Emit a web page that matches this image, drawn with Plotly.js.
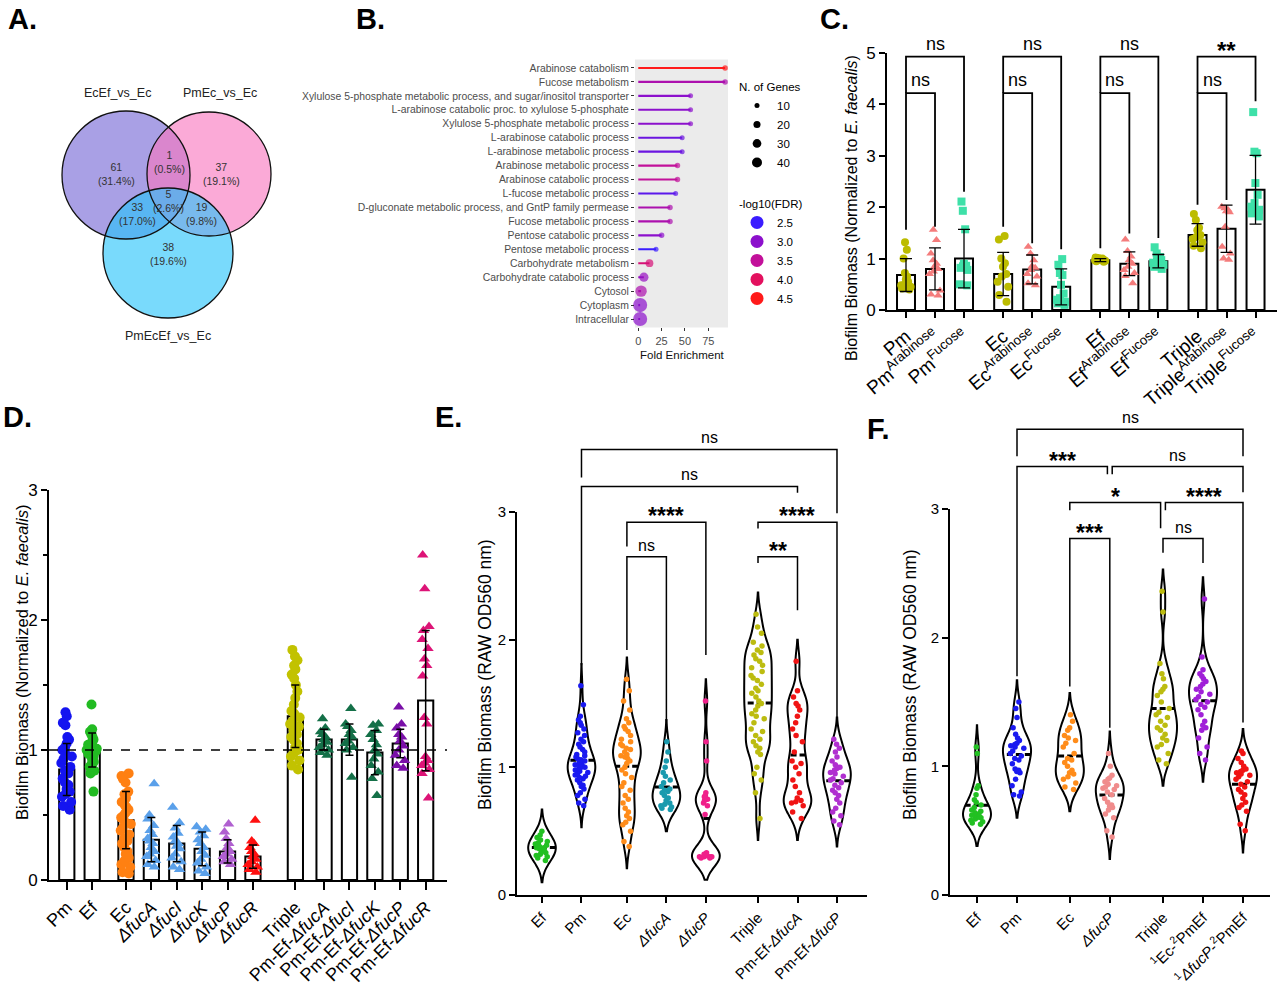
<!DOCTYPE html>
<html><head><meta charset="utf-8">
<script src="https://cdn.plot.ly/plotly-3.0.1.min.js"></script>
<style>html,body{margin:0;padding:0;background:#fff;}#chart{width:1280px;height:989px;}</style>
</head><body><div id="chart"></div>
<script>
const FONT = 'Liberation Sans, Arial, Helvetica, sans-serif';
const W = 1280, H = 989;

// ================= DATA =================
// ---- Panel A (Venn)
const vennSets = ['EcEf_vs_Ec', 'PmEc_vs_Ec', 'PmEcEf_vs_Ec'];
// regions: EcEf only, PmEc only, PmEcEf only, EcEf&PmEc, EcEf&PmEcEf, PmEc&PmEcEf, all three
const vennCounts = [61, 37, 38, 1, 33, 19, 5];
const vennPct = ['31.4%', '19.1%', '19.6%', '0.5%', '17.0%', '9.8%', '2.6%'];

// ---- Panel B (GO enrichment lollipop)
const goTerms = ['Arabinose catabolism', 'Fucose metabolism',
  'Xylulose 5-phosphate metabolic process, and sugar/inositol transporter',
  'L-arabinose catabolic proc. to xylulose 5-phosphate', 'Xylulose 5-phosphate metabolic process',
  'L-arabinose catabolic process', 'L-arabinose metabolic process', 'Arabinose metabolic process',
  'Arabinose catabolic process', 'L-fucose metabolic process',
  'D-gluconate metabolic process, and GntP family permease', 'Fucose metabolic process',
  'Pentose catabolic process', 'Pentose metabolic process', 'Carbohydrate metabolism',
  'Carbohydrate catabolic process', 'Cytosol', 'Cytoplasm', 'Intracellular'];
const goFold = [93, 93, 56, 56, 56, 47, 47, 42, 42, 40, 34, 34, 25, 19, 12, 6, 3, 2, 2];
const goGenes = [6, 6, 5, 5, 5, 5, 5, 6, 6, 5, 6, 6, 6, 5, 12, 17, 26, 40, 40];
const goFDR = [4.5, 3.3, 3.0, 3.0, 3.0, 2.8, 2.8, 3.5, 3.5, 2.7, 3.3, 3.3, 3.0, 2.5, 3.8, 3.1, 3.3, 3.0, 3.0];
const genesLegend = [10, 20, 30, 40];
const fdrLegend = [2.5, 3.0, 3.5, 4.0, 4.5];

// ---- Panel C
const cLabels = ['Pm', 'Pm<sup>Arabinose</sup>', 'Pm<sup>Fucose</sup>',
  'Ec', 'Ec<sup>Arabinose</sup>', 'Ec<sup>Fucose</sup>',
  'Ef', 'Ef<sup>Arabinose</sup>', 'Ef<sup>Fucose</sup>',
  'Triple', 'Triple<sup>Arabinose</sup>', 'Triple<sup>Fucose</sup>'];
const cMean = [0.68, 0.80, 1.00, 0.70, 0.79, 0.45, 0.97, 0.90, 0.95, 1.46, 1.58, 2.34];
const cSD = [0.32, 0.41, 0.57, 0.42, 0.28, 0.35, 0.03, 0.23, 0.13, 0.22, 0.46, 0.67];
const cPoints = [
  [1.32, 1.17, 1.0, 0.72, 0.65, 0.6, 0.55, 0.5, 0.48, 0.45, 0.42, 0.4],
  [1.56, 1.36, 1.1, 0.97, 0.9, 0.85, 0.8, 0.75, 0.7, 0.38, 0.3, 0.28],
  [2.11, 1.93, 1.57, 0.9, 0.86, 0.85, 0.82, 0.78, 0.5, 0.48],
  [1.44, 1.37, 1.0, 0.91, 0.84, 0.7, 0.65, 0.55, 0.45, 0.29, 0.16],
  [1.23, 1.1, 0.97, 0.85, 0.82, 0.78, 0.7, 0.65, 0.52, 0.48],
  [0.99, 0.88, 0.72, 0.68, 0.49, 0.32, 0.23, 0.2, 0.16, 0.13, 0.1],
  [1.02, 1.01, 1.0, 0.99, 0.98, 0.98, 0.97, 0.96, 0.95, 0.94],
  [1.37, 1.15, 1.04, 0.97, 0.9, 0.84, 0.78, 0.72, 0.66, 0.52],
  [1.22, 1.1, 1.03, 1.0, 0.97, 0.95, 0.92, 0.88, 0.84, 0.8],
  [1.87, 1.75, 1.6, 1.55, 1.46, 1.42, 1.38, 1.32, 1.25, 1.2],
  [2.01, 1.98, 1.95, 1.92, 1.9, 1.62, 1.23, 1.1, 1.0, 0.98],
  [3.85, 3.08, 3.05, 2.47, 2.24, 2.08, 2.01, 1.95, 1.88, 1.82]
];
// [from, to, bracket level, left leg end, right leg end, label]
const cSig = [
  [0, 2, 4.93, 4.22, 2.3, 'ns'], [0, 1, 4.22, 1.56, 1.62, 'ns'],
  [3, 5, 4.93, 4.22, 1.18, 'ns'], [3, 4, 4.22, 1.62, 1.3, 'ns'],
  [6, 8, 4.93, 4.22, 1.4, 'ns'], [6, 7, 4.22, 1.2, 1.49, 'ns'],
  [9, 11, 4.93, 4.22, 4.06, '**'], [9, 10, 4.22, 2.05, 2.14, 'ns']
];

// ---- Panel D
const dLabels = ['Pm', 'Ef', 'Ec', '<i>ΔfucA</i>', '<i>ΔfucI</i>', '<i>ΔfucK</i>', '<i>ΔfucP</i>', '<i>ΔfucR</i>',
  'Triple', 'Pm-Ef-<i>ΔfucA</i>', 'Pm-Ef-<i>ΔfucI</i>', 'Pm-Ef-<i>ΔfucK</i>', 'Pm-Ef-<i>ΔfucP</i>', 'Pm-Ef-<i>ΔfucR</i>'];
const dMean = [0.85, 1.0, 0.46, 0.31, 0.28, 0.24, 0.22, 0.18, 1.26, 1.08, 1.08, 0.98, 1.05, 1.38];
const dSD = [0.2, 0.13, 0.22, 0.17, 0.14, 0.13, 0.09, 0.09, 0.24, 0.08, 0.12, 0.17, 0.11, 0.54];
const dPoints = [
  [1.29, 1.26, 1.21, 1.19, 1.1, 1.08, 1.05, 1.02, 1.0, 0.97, 0.95, 0.93, 0.9, 0.87, 0.84, 0.82, 0.78, 0.75, 0.73, 0.7, 0.68, 0.66, 0.64, 0.6, 0.57, 0.54],
  [1.35, 1.16, 1.14, 1.12, 1.1, 1.08, 1.06, 1.05, 1.04, 1.02, 1.01, 1.0, 1.0, 0.99, 0.98, 0.97, 0.97, 0.96, 0.95, 0.93, 0.91, 0.89, 0.87, 0.84, 0.82, 0.68],
  [0.82, 0.8, 0.78, 0.75, 0.68, 0.66, 0.63, 0.6, 0.58, 0.56, 0.54, 0.52, 0.5, 0.48, 0.45, 0.43, 0.4, 0.38, 0.35, 0.32, 0.3, 0.28, 0.25, 0.22, 0.2, 0.17, 0.15, 0.12, 0.1, 0.06, 0.05],
  [0.74, 0.5, 0.47, 0.42, 0.38, 0.35, 0.32, 0.3, 0.28, 0.25, 0.22, 0.2, 0.18, 0.15, 0.12, 0.1],
  [0.56, 0.44, 0.4, 0.36, 0.33, 0.3, 0.28, 0.26, 0.24, 0.2, 0.17, 0.14, 0.1, 0.08],
  [0.41, 0.39, 0.37, 0.34, 0.31, 0.28, 0.25, 0.22, 0.19, 0.16, 0.13, 0.1, 0.07, 0.05],
  [0.43, 0.37, 0.32, 0.28, 0.25, 0.22, 0.2, 0.18, 0.16, 0.14, 0.12],
  [0.46, 0.3, 0.28, 0.25, 0.22, 0.2, 0.18, 0.16, 0.14, 0.12, 0.1, 0.08, 0.06],
  [1.77, 1.72, 1.69, 1.65, 1.62, 1.58, 1.55, 1.5, 1.45, 1.4, 1.35, 1.3, 1.28, 1.25, 1.22, 1.2, 1.18, 1.15, 1.12, 1.1, 1.08, 1.05, 1.02, 1.0, 0.98, 0.95, 0.92, 0.88, 0.85],
  [1.24, 1.17, 1.14, 1.12, 1.1, 1.08, 1.06, 1.04, 1.02, 1.0, 0.98, 0.96],
  [1.32, 1.2, 1.18, 1.15, 1.12, 1.1, 1.07, 1.05, 1.02, 1.0, 0.79],
  [1.2, 1.19, 1.15, 1.12, 1.08, 1.04, 1.0, 0.97, 0.93, 0.88, 0.83, 0.78, 0.65],
  [1.33, 1.2, 1.17, 1.12, 1.1, 1.07, 1.03, 1.0, 0.96, 0.92, 0.88, 0.86],
  [2.5, 2.24, 1.95, 1.92, 1.85, 1.78, 1.7, 1.65, 1.57, 1.25, 1.2, 0.95, 0.92, 0.9, 0.88, 0.85, 0.82, 0.63]
];

// ---- Panel E
const eLabels = ['Ef', 'Pm', 'Ec', '<i>ΔfucA</i>', '<i>ΔfucP</i>', 'Triple', 'Pm-Ef-<i>ΔfucA</i>', 'Pm-Ef-<i>ΔfucP</i>'];
const ePoints = [
  [0.5, 0.47, 0.45, 0.43, 0.42, 0.41, 0.4, 0.39, 0.38, 0.37, 0.37, 0.36, 0.35, 0.34, 0.33, 0.32, 0.31, 0.3, 0.29, 0.27],
  [1.64, 1.49, 1.4, 1.37, 1.35, 1.33, 1.3, 1.27, 1.25, 1.22, 1.2, 1.18, 1.16, 1.14, 1.12, 1.1, 1.09, 1.08, 1.07, 1.06, 1.05, 1.04, 1.03, 1.02, 1.02, 1.01, 1.0, 1.0, 0.99, 0.98, 0.97, 0.96, 0.95, 0.94, 0.93, 0.92, 0.91, 0.9, 0.88, 0.86, 0.85, 0.83, 0.8, 0.78, 0.75, 0.72, 0.7],
  [1.69, 1.6, 1.52, 1.45, 1.38, 1.35, 1.32, 1.3, 1.28, 1.25, 1.22, 1.2, 1.18, 1.17, 1.15, 1.14, 1.12, 1.1, 1.09, 1.08, 1.07, 1.05, 1.03, 1.0, 0.98, 0.95, 0.92, 0.88, 0.85, 0.82, 0.78, 0.75, 0.72, 0.68, 0.65, 0.62, 0.6, 0.57, 0.55, 0.5, 0.42, 0.38],
  [1.2, 1.12, 1.05, 1.0, 0.96, 0.93, 0.9, 0.88, 0.85, 0.83, 0.82, 0.81, 0.8, 0.78, 0.76, 0.74, 0.72, 0.71, 0.7, 0.69, 0.68, 0.67],
  [1.52, 1.2, 1.05, 0.8, 0.78, 0.77, 0.76, 0.75, 0.74, 0.72, 0.7, 0.63, 0.33, 0.32, 0.32, 0.31, 0.31, 0.3, 0.3, 0.3, 0.3, 0.29, 0.29],
  [2.2, 2.1, 2.05, 1.98, 1.95, 1.92, 1.9, 1.88, 1.85, 1.83, 1.8, 1.78, 1.75, 1.72, 1.7, 1.68, 1.65, 1.62, 1.6, 1.58, 1.55, 1.52, 1.5, 1.48, 1.45, 1.42, 1.4, 1.38, 1.35, 1.3, 1.28, 1.25, 1.22, 1.2, 1.17, 1.15, 1.12, 1.1, 1.0, 0.95, 0.9, 0.8, 0.6],
  [1.83, 1.6, 1.55, 1.5, 1.48, 1.45, 1.4, 1.35, 1.3, 1.25, 1.2, 1.12, 1.05, 1.03, 1.0, 0.95, 0.9, 0.85, 0.8, 0.76, 0.74, 0.73, 0.72, 0.7, 0.65, 0.6],
  [1.22, 1.18, 1.15, 1.12, 1.08, 1.05, 1.02, 1.0, 1.0, 0.99, 0.98, 0.96, 0.95, 0.93, 0.91, 0.9, 0.88, 0.86, 0.84, 0.82, 0.8, 0.78, 0.75, 0.72, 0.68, 0.65, 0.62, 0.58, 0.55]
];
const eSig = [
  [1, 7, 3.49, 3.27, 2.99, 'ns'], [1, 6, 3.2, 1.8, 3.15, 'ns'],
  [2, 4, 2.92, 2.73, 1.88, '****'], [2, 3, 2.65, 1.92, 1.36, 'ns'],
  [5, 7, 2.92, 2.87, 1.39, '****'], [5, 6, 2.65, 2.6, 2.23, '**']
];

// ---- Panel F
const fLabels = ['Ef', 'Pm', 'Ec', '<i>ΔfucP</i>', 'Triple', '<sup>1</sup>Ec-<sup>2</sup>PmEf', '<sup>1</sup><i>ΔfucP</i>-<sup>2</sup>PmEf'];
const fPoints = [
  [1.15, 1.1, 0.85, 0.83, 0.78, 0.74, 0.72, 0.7, 0.68, 0.66, 0.65, 0.64, 0.63, 0.62, 0.62, 0.61, 0.6, 0.6, 0.59, 0.58, 0.57, 0.56, 0.55],
  [1.5, 1.45, 1.38, 1.3, 1.25, 1.22, 1.2, 1.18, 1.17, 1.16, 1.15, 1.14, 1.12, 1.1, 1.08, 1.06, 1.05, 1.02, 0.98, 0.97, 0.96, 0.95, 0.9, 0.85, 0.8, 0.78, 0.77],
  [1.4, 1.35, 1.3, 1.28, 1.24, 1.22, 1.2, 1.18, 1.15, 1.1, 1.06, 1.05, 1.03, 1.0, 0.97, 0.95, 0.94, 0.92, 0.9, 0.87, 0.84, 0.82],
  [1.1, 1.0, 0.93, 0.91, 0.9, 0.88, 0.86, 0.85, 0.84, 0.83, 0.82, 0.8, 0.78, 0.75, 0.72, 0.7, 0.69, 0.68, 0.66, 0.63, 0.6, 0.5, 0.45],
  [2.36, 2.2, 1.8, 1.72, 1.68, 1.62, 1.6, 1.58, 1.55, 1.5, 1.45, 1.42, 1.4, 1.38, 1.35, 1.32, 1.3, 1.28, 1.25, 1.22, 1.2, 1.17, 1.15, 1.1, 1.05, 1.02],
  [2.3, 1.85, 1.75, 1.72, 1.7, 1.68, 1.66, 1.64, 1.62, 1.6, 1.58, 1.56, 1.54, 1.52, 1.5, 1.48, 1.46, 1.44, 1.4, 1.35, 1.32, 1.3, 1.28, 1.22, 1.15, 1.1, 1.05],
  [1.12, 1.1, 1.06, 1.03, 1.0, 0.98, 0.97, 0.96, 0.95, 0.94, 0.93, 0.92, 0.9, 0.88, 0.86, 0.84, 0.82, 0.8, 0.78, 0.75, 0.72, 0.7, 0.68, 0.65, 0.55, 0.5]
];
const fSig = [
  [1, 6, 3.62, 3.41, 3.41, 'ns'], [1, 3, 3.33, 1.7, 3.27, '***'], [3, 6, 3.33, 3.27, 3.13, 'ns'],
  [2, 4, 3.05, 2.99, 2.85, '*'], [4, 6, 3.05, 2.99, 1.34, '****'],
  [2, 3, 2.77, 1.62, 1.3, '***'], [4, 5, 2.77, 2.66, 2.58, 'ns']
];

// ================= STYLE / GEOMETRY =================
const fdrScale = [[0, '#3a1cff'], [0.25, '#8c10cc'], [0.5, '#c2109a'], [0.75, '#e3105e'], [1, '#ff1a1a']];
const cColors = ['#bcbc00', '#f47c7c', '#3ee0a8'];
const cSymbols = ['circle', 'triangle-up', 'square'];
const dColors = ['#1414f0', '#22bb22', '#ff8012', '#5aa0ea', '#5aa0ea', '#5aa0ea', '#b060d0', '#ff1010',
  '#c2c200', '#147048', '#147048', '#147048', '#7a10a8', '#dd1477'];
const dSymbols = ['circle', 'circle', 'circle', 'triangle-up', 'triangle-up', 'triangle-up', 'triangle-up', 'triangle-up',
  'circle', 'triangle-up', 'triangle-up', 'triangle-up', 'triangle-up', 'triangle-up'];
const eColors = ['#22c022', '#1a1af0', '#ff8c1a', '#1a9aae', '#f0208a', '#bcbc10', '#f01414', '#b030d0'];
const fColors = ['#22c022', '#1a1af0', '#ff8c1a', '#f08c8c', '#bcbc10', '#a020d8', '#f01414'];

const GEO = {
  B: {x: [635, 728], y: [59.6, 327.4], xr: [-3.5, 96.1], yr: [18.6, -0.6]},
  C: {x: [887, 1277], y: [53, 310], xr: [-0.655, 12.79], yr: [0, 5]},
  D: {x: [49, 447], y: [490, 880], xr: [-0.7, 14.97], yr: [0, 3]},
  E: {x: [517, 867], y: [512, 895], xr: [-0.633, 8.23], yr: [0, 3]},
  F: {x: [950, 1270], y: [509, 895], xr: [-0.675, 7.325], yr: [0, 3]}
};
function slots(sizes, gaps) {
  const out = []; let p = 0;
  sizes.forEach((n, i) => { if (i > 0) p += gaps[i - 1]; for (let k = 0; k < n; k++) { out.push(p); p += 1; } });
  return out;
}
const cPos = slots([3, 3, 3, 3], [0.35, 0.35, 0.35]);
const dPos = slots([2, 6, 1, 5], [0.33, 0.67, 0.13]);
const ePos = slots([2, 3, 3], [0.15, 0.32]);
const fPos = slots([2, 2, 3], [0.32, 0.33]);

function toPX(g, v) { return (g.x[0] + (v - g.xr[0]) / (g.xr[1] - g.xr[0]) * (g.x[1] - g.x[0])) / W; }
function toPY(g, v) { return 1 - (g.y[1] - (v - g.yr[0]) / (g.yr[1] - g.yr[0]) * (g.y[1] - g.y[0])) / H; }
function axis(g, isX, extra) {
  const d = isX ? [g.x[0] / W, g.x[1] / W] : [1 - g.y[1] / H, 1 - g.y[0] / H];
  return Object.assign({domain: d, range: isX ? g.xr : g.yr, autorange: false, showline: true, linecolor: '#000',
    linewidth: 2, ticks: 'outside', ticklen: 6, tickwidth: 2, tickcolor: '#000', showgrid: false, zeroline: false,
    fixedrange: true, tickfont: {family: FONT, size: 16, color: '#000'}}, extra);
}

const traces = [], shapes = [], anns = [];
const px = v => v / W, py = v => 1 - v / H;
function label(x, y, text, font, extra) {
  anns.push(Object.assign({xref: 'paper', yref: 'paper', x: x, y: y, xanchor: 'center', yanchor: 'middle',
    text: text, showarrow: false, font: font}, extra || {}));
}

// ================= PANEL A =================
const vennCircles = [{cx: 126, cy: 175, r: 64, c: 'rgba(112,96,212,0.6)'},
  {cx: 209, cy: 174, r: 62, c: 'rgba(248,118,190,0.62)'},
  {cx: 168, cy: 253, r: 65, c: 'rgba(38,196,250,0.62)'}];
vennCircles.forEach(k => shapes.push({type: 'circle', xref: 'paper', yref: 'paper', x0: px(k.cx - k.r), x1: px(k.cx + k.r),
  y0: py(k.cy + k.r), y1: py(k.cy - k.r), fillcolor: k.c, line: {width: 0}, layer: 'below'}));
vennCircles.forEach(k => shapes.push({type: 'circle', xref: 'paper', yref: 'paper', x0: px(k.cx - k.r), x1: px(k.cx + k.r),
  y0: py(k.cy + k.r), y1: py(k.cy - k.r), fillcolor: 'rgba(0,0,0,0)', line: {width: 1.3, color: '#111'}, layer: 'below'}));
const vennSetPos = [[117, 93], [220, 93], [168, 336]];
vennSets.forEach((s, i) => label(px(vennSetPos[i][0]), py(vennSetPos[i][1]), s, {family: FONT, size: 12.5, color: '#222'}));
const vennRegPos = [[116, 174], [221, 174], [168, 254], [169, 162], [137, 214], [201, 214], [168, 201]];
vennCounts.forEach((n, i) => label(px(vennRegPos[i][0]), py(vennRegPos[i][1]), n + '<br>(' + vennPct[i] + ')',
  {family: FONT, size: 10.5, color: '#333'}));

// ================= PANEL B =================
shapes.push({type: 'rect', xref: 'paper', yref: 'paper', x0: px(GEO.B.x[0]), x1: px(GEO.B.x[1]),
  y0: py(GEO.B.y[1]), y1: py(GEO.B.y[0]), fillcolor: '#ebebeb', line: {width: 0}, layer: 'below'});
traces.push({type: 'bar', orientation: 'h', x: goFold, y: goTerms, width: 0.15, xaxis: 'x2', yaxis: 'y2',
  marker: {color: goFDR, colorscale: fdrScale, cmin: 2.5, cmax: 4.5, line: {width: 0}}, showlegend: false, hoverinfo: 'skip'});
traces.push({type: 'scatter', mode: 'markers', x: goFold, y: goTerms, xaxis: 'x2', yaxis: 'y2', cliponaxis: false,
  marker: {size: goGenes, sizemode: 'area', sizeref: 0.4, color: goFDR, colorscale: fdrScale, cmin: 2.5, cmax: 4.5, line: {width: 0}},
  showlegend: false, hoverinfo: 'skip'});
genesLegend.forEach(g => traces.push({type: 'scatter', mode: 'markers', x: [null], y: [null], xaxis: 'x2', yaxis: 'y2',
  name: String(g), legend: 'legend', marker: {size: Math.sqrt(g / 0.4), color: '#000'}, showlegend: true}));
fdrLegend.forEach((f, i) => traces.push({type: 'scatter', mode: 'markers', x: [null], y: [null], xaxis: 'x2', yaxis: 'y2',
  name: f.toFixed(1), legend: 'legend2', marker: {size: 13, color: fdrScale[i][1]}, showlegend: true}));
label(px(682), py(355), 'Fold Enrichment', {family: FONT, size: 11.5, color: '#111'});

// ================= PANEL C =================
traces.push({type: 'bar', x: cPos, y: cMean, width: 0.62, xaxis: 'x3', yaxis: 'y3',
  marker: {color: '#fff', line: {color: '#000', width: 2}}, showlegend: false, hoverinfo: 'skip'});
cPoints.forEach((pts, i) => traces.push({type: 'box', x0: cPos[i], y: pts, width: 0.5, boxpoints: 'all', jitter: 0.9,
  pointpos: 0, whiskerwidth: 0, fillcolor: 'rgba(0,0,0,0)', line: {color: 'rgba(0,0,0,0)', width: 0},
  marker: {symbol: cSymbols[i % 3], size: 8, color: cColors[i % 3]}, xaxis: 'x3', yaxis: 'y3', showlegend: false, hoverinfo: 'skip'}));
traces.push({type: 'scatter', mode: 'markers', x: cPos, y: cMean, xaxis: 'x3', yaxis: 'y3', marker: {size: 1, color: 'rgba(0,0,0,0)'},
  error_y: {type: 'data', array: cSD, color: '#000', thickness: 1.3, width: 6}, showlegend: false, hoverinfo: 'skip'});

// ================= PANEL D =================
traces.push({type: 'bar', x: dPos, y: dMean, width: 0.6, xaxis: 'x4', yaxis: 'y4',
  marker: {color: '#fff', line: {color: '#000', width: 2}}, showlegend: false, hoverinfo: 'skip'});
dPoints.forEach((pts, i) => traces.push({type: 'box', x0: dPos[i], y: pts, width: 0.5, boxpoints: 'all', jitter: 0.9,
  pointpos: 0, whiskerwidth: 0, fillcolor: 'rgba(0,0,0,0)', line: {color: 'rgba(0,0,0,0)', width: 0},
  marker: {symbol: dSymbols[i], size: 10, color: dColors[i]}, xaxis: 'x4', yaxis: 'y4', showlegend: false, hoverinfo: 'skip'}));
traces.push({type: 'scatter', mode: 'markers', x: dPos, y: dMean, xaxis: 'x4', yaxis: 'y4', marker: {size: 1, color: 'rgba(0,0,0,0)'},
  error_y: {type: 'data', array: dSD, color: '#000', thickness: 1.5, width: 4}, showlegend: false, hoverinfo: 'skip'});
shapes.push({type: 'line', xref: 'paper', yref: 'paper', x0: px(GEO.D.x[0]), x1: px(GEO.D.x[1]),
  y0: toPY(GEO.D, 1), y1: toPY(GEO.D, 1), line: {color: '#000', width: 1.3, dash: 'dash'}});

// ================= PANELS E, F (violins) =================
function violins(points, pos, colors, xa, ya) {
  points.forEach((pts, i) => traces.push({type: 'violin', x0: pos[i], y: pts, width: 0.7, scalemode: 'width',
    bandwidth: 0.085, points: 'all', jitter: 0.55, pointpos: 0, spanmode: 'soft', line: {color: '#000', width: 2},
    fillcolor: 'rgba(255,255,255,0)', marker: {size: 5.5, color: colors[i]},
    meanline: {visible: true, color: '#000', width: 3}, box: {visible: false},
    xaxis: xa, yaxis: ya, showlegend: false, hoverinfo: 'skip'}));
}
violins(ePoints, ePos, eColors, 'x5', 'y5');
violins(fPoints, fPos, fColors, 'x6', 'y6');

// ================= SIGNIFICANCE BRACKETS =================
function brackets(g, pos, list, lw, nsSize, starSize) {
  list.forEach(b => {
    const close = list.filter(o => o !== b && o[2] === b[2]);
    let xa = pos[b[0]], xb = pos[b[1]];
    close.forEach(o => { if (o[1] === b[0]) xa += 0.06; if (o[0] === b[1]) xb -= 0.06; });
    const X1 = toPX(g, xa), X2 = toPX(g, xb), Yt = toPY(g, b[2]), Ya = toPY(g, b[3]), Yb = toPY(g, b[4]);
    shapes.push({type: 'path', xref: 'paper', yref: 'paper', path: `M${X1},${Ya} L${X1},${Yt} L${X2},${Yt} L${X2},${Yb}`,
      line: {color: '#000', width: lw}});
    const star = b[5].includes('*');
    label((X1 + X2) / 2, Yt, star ? '<b>' + b[5] + '</b>' : b[5],
      {family: FONT, size: star ? starSize : nsSize, color: '#000'}, {yanchor: 'bottom', yshift: star ? -9 : 1});
  });
}
brackets(GEO.C, cPos, cSig, 1.8, 18, 24);
brackets(GEO.E, ePos, eSig, 1.5, 16, 23);
brackets(GEO.F, fPos, fSig, 1.5, 16, 23);

// ================= TITLES / LABELS =================
const panelLetters = [['A.', 22, 19], ['B.', 370, 19], ['C.', 834, 19], ['D.', 17, 417], ['E.', 448, 417], ['F.', 878, 429]];
panelLetters.forEach(p => label(px(p[1]), py(p[2]), '<b>' + p[0] + '</b>', {family: FONT, size: 29, color: '#000'}));
const yTitles = [
  ['Biofilm Biomass (Normalized to <i>E. faecalis</i>)', 851, 208, 16],
  ['Biofilm Biomass (Normalized to <i>E. faecalis</i>)', 22, 663, 16.5],
  ['Biofilm Biomass (RAW OD560 nm)', 485, 675, 17.5],
  ['Biofilm Biomass (RAW OD560 nm)', 910, 685, 17.5]
];
yTitles.forEach(t => label(px(t[1]), py(t[2]), t[0], {family: FONT, size: t[3], color: '#000'}, {textangle: -90}));

// ================= LAYOUT =================
const layout = {
  width: W, height: H, margin: {l: 0, r: 0, t: 0, b: 0}, paper_bgcolor: '#fff', plot_bgcolor: 'rgba(0,0,0,0)',
  hovermode: false, boxmode: 'overlay', violinmode: 'overlay', barmode: 'overlay',
  font: {family: FONT, color: '#000'},
  xaxis2: axis(GEO.B, true, {anchor: 'y2', showline: false, tickvals: [0, 25, 50, 75], ticklen: 3, tickwidth: 1,
    tickcolor: '#333', tickfont: {family: FONT, size: 11, color: '#4d4d4d'}}),
  yaxis2: axis(GEO.B, false, {anchor: 'x2', type: 'category', categoryarray: goTerms, categoryorder: 'array', showline: false,
    ticklen: 3, tickwidth: 1, tickcolor: '#333', tickfont: {family: FONT, size: 10.4, color: '#4d4d4d'}}),
  xaxis3: axis(GEO.C, true, {anchor: 'y3', type: 'linear', tickvals: cPos, ticktext: cLabels, tickangle: -40,
    tickfont: {family: FONT, size: 19, color: '#000'}}),
  yaxis3: axis(GEO.C, false, {anchor: 'x3', tickvals: [0, 1, 2, 3, 4, 5], tickfont: {family: FONT, size: 17, color: '#000'}}),
  xaxis4: axis(GEO.D, true, {anchor: 'y4', type: 'linear', tickvals: dPos, ticktext: dLabels, tickangle: -45, ticklen: 8,
    tickfont: {family: FONT, size: 18, color: '#000'}}),
  yaxis4: axis(GEO.D, false, {anchor: 'x4', tickvals: [0, 1, 2, 3], tickfont: {family: FONT, size: 17, color: '#000'},
    minor: {tickvals: [0.5, 1.5, 2.5], ticks: 'outside', ticklen: 4, tickwidth: 2, tickcolor: '#000'}}),
  xaxis5: axis(GEO.E, true, {anchor: 'y5', type: 'linear', tickvals: ePos, ticktext: eLabels, tickangle: -45,
    tickfont: {family: FONT, size: 15, color: '#000'}}),
  yaxis5: axis(GEO.E, false, {anchor: 'x5', tickvals: [0, 1, 2, 3], tickfont: {family: FONT, size: 15, color: '#000'}}),
  xaxis6: axis(GEO.F, true, {anchor: 'y6', type: 'linear', tickvals: fPos, ticktext: fLabels, tickangle: -45,
    tickfont: {family: FONT, size: 15, color: '#000'}}),
  yaxis6: axis(GEO.F, false, {anchor: 'x6', tickvals: [0, 1, 2, 3], tickfont: {family: FONT, size: 15, color: '#000'}}),
  legend: {x: px(737), y: py(76), xanchor: 'left', yanchor: 'top', bgcolor: 'rgba(0,0,0,0)', itemwidth: 30,
    font: {family: FONT, size: 11.5, color: '#000'}, title: {text: 'N. of Genes', font: {family: FONT, size: 11.5}}},
  legend2: {x: px(737), y: py(193), xanchor: 'left', yanchor: 'top', bgcolor: 'rgba(0,0,0,0)', itemwidth: 30,
    font: {family: FONT, size: 11.5, color: '#000'}, title: {text: '-log10(FDR)', font: {family: FONT, size: 11.5}}},
  shapes: shapes, annotations: anns
};

Plotly.newPlot('chart', traces, layout, {staticPlot: true, displayModeBar: false});
</script></body></html>
